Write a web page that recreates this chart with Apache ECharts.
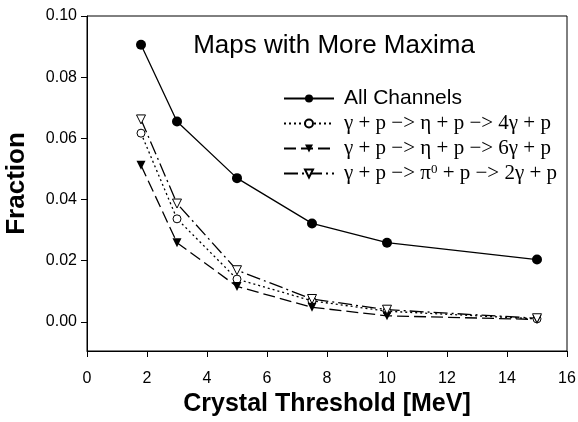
<!DOCTYPE html>
<html><head><meta charset="utf-8">
<script src="https://cdn.jsdelivr.net/npm/echarts@6/dist/echarts.min.js"></script>
<style>html,body{margin:0;padding:0;background:#fff}#c{width:578px;height:422px}</style>
</head><body><div id="c"></div>
<script>
const xValues = [1.8, 3, 5, 7.5, 10, 15];
const allChannels = [0.0906, 0.0655, 0.0470, 0.0322, 0.0259, 0.0204];
const eta4g = [0.0617, 0.0337, 0.0140, 0.0069, 0.0035, 0.0010];
const eta6g = [0.0512, 0.0259, 0.0116, 0.0048, 0.0020, 0.0008];
const pi2g = [0.0662, 0.0387, 0.0169, 0.0075, 0.0040, 0.0012];
const yTicks = [0, 0.02, 0.04, 0.06, 0.08, 0.10];
const seriesNames = ['All Channels', 'eta4', 'eta6', 'pi2'];
const title = 'Maps with More Maxima';

const pair = arr => xValues.map((x, i) => [x, arr[i]]);
const legendText = {
  'All Channels': '{s|All Channels}',
  'eta4': '{m|γ + p −> η + p −> 4γ + p}',
  'eta6': '{m|γ + p −> η + p −> 6γ + p}',
  'pi2': '{m|γ + p −> π}{sup|0}{n| + p −> 2γ + p}'
};
const chart = echarts.init(document.getElementById('c'), null, {renderer: 'canvas'});
chart.setOption({
  animation: false,
  backgroundColor: '#fff',
  grid: {left: 87, right: 11, top: 16, bottom: 71, show: true, borderColor: '#000', borderWidth: 1,
    outerBoundsMode: 'none', containLabel: false},
  title: {text: title, left: 329, top: 28, textAlign: 'center',
    textStyle: {fontFamily: 'Liberation Sans', fontSize: 26, fontWeight: 'normal', color: '#000'}},
  legend: {
    orient: 'vertical', left: 278, top: 83, itemWidth: 50, itemHeight: 10, itemGap: 4,
    data: seriesNames,
    formatter: n => legendText[n],
    textStyle: {color: '#000', rich: {
      s: {fontFamily: 'Liberation Sans', fontSize: 21, lineHeight: 20, color: '#000', padding: [0, 0, 0, 5]},
      m: {fontFamily: 'Liberation Serif', fontSize: 21, lineHeight: 20, color: '#000', padding: [0, 0, 0, 5]},
      n: {fontFamily: 'Liberation Serif', fontSize: 21, lineHeight: 20, color: '#000'},
      sup: {fontFamily: 'Liberation Serif', fontSize: 13, lineHeight: 20, color: '#000', verticalAlign: 'top', padding: [0, 0, 10, 0]}
    }}
  },
  xAxis: {
    type: 'value', min: 0, max: 16, interval: 2,
    name: 'Crystal Threshold [MeV]', nameLocation: 'middle', nameGap: 40,
    nameTextStyle: {fontFamily: 'Liberation Sans', fontSize: 25, fontWeight: 'bold', color: '#000'},
    axisLine: {onZero: false, lineStyle: {color: '#000', width: 1}},
    axisTick: {inside: false, length: 6, lineStyle: {color: '#000'}},
    axisLabel: {fontFamily: 'Liberation Sans', fontSize: 16, color: '#000', margin: 20},
    splitLine: {show: false}
  },
  yAxis: {
    type: 'value', min: -0.0095, max: 0.10,
    name: 'Fraction', nameLocation: 'middle', nameGap: 57, nameRotate: 90,
    nameTextStyle: {fontFamily: 'Liberation Sans', fontSize: 26, fontWeight: 'bold', color: '#000'},
    axisLine: {onZero: false, lineStyle: {color: '#000', width: 1}},
    axisTick: {inside: false, length: 6, customValues: yTicks, lineStyle: {color: '#000'}},
    axisLabel: {fontFamily: 'Liberation Sans', fontSize: 16, color: '#000', margin: 10,
      customValues: yTicks, formatter: v => v.toFixed(2)},
    splitLine: {show: false}
  },
  series: [
    {name: 'All Channels', type: 'line', data: pair(allChannels), symbol: 'circle', symbolSize: 10,
      itemStyle: {color: '#000'}, lineStyle: {color: '#000', width: 1.3, type: 'solid'}},
    {name: 'eta4', type: 'line', data: pair(eta4g), symbol: 'circle', symbolSize: 8,
      itemStyle: {color: '#fff', borderColor: '#000', borderWidth: 1}, lineStyle: {color: '#000', width: 1.3, type: [2, 3]}},
    {name: 'eta6', type: 'line', data: pair(eta6g), symbol: 'triangle', symbolRotate: 180, symbolSize: 9,
      itemStyle: {color: '#000'}, lineStyle: {color: '#000', width: 1.3, type: [12, 5]}},
    {name: 'pi2', type: 'line', data: pair(pi2g), symbol: 'triangle', symbolRotate: 180, symbolSize: 9,
      itemStyle: {color: '#fff', borderColor: '#000', borderWidth: 1}, lineStyle: {color: '#000', width: 1.3, type: [14, 4, 2, 4]}}
  ]
});
</script></body></html>
